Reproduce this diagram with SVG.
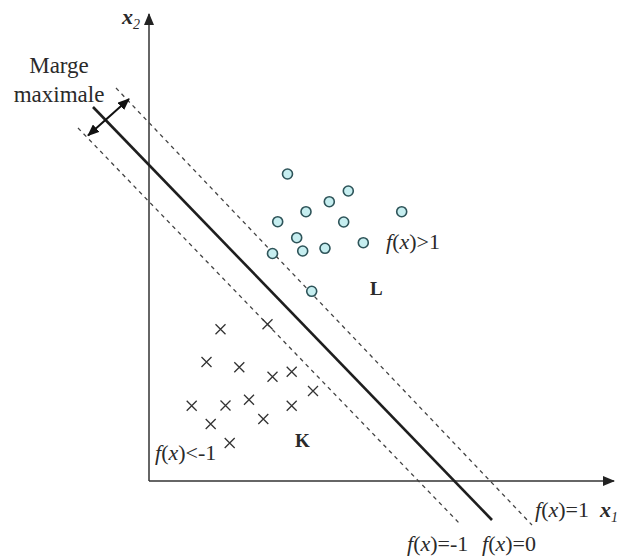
<svg xmlns="http://www.w3.org/2000/svg" width="617" height="557" viewBox="0 0 617 557">
<style>
  text { font-family: "Liberation Serif", "Times New Roman", serif; fill: #2a2a2a; }
  .lbl { font-size: 22px; }
  .it { font-style: italic; }
  .cls { font-size: 19px; font-weight: bold; }
  .axis { stroke: #333; stroke-width: 1.5; fill: none; }
  .solid { stroke: #1e1e1e; stroke-width: 2.6; fill: none; }
  .dash { stroke: #444; stroke-width: 1.3; stroke-dasharray: 4 4; fill: none; }
  .dot { fill: #c6eef0; stroke: #2e5459; stroke-width: 1.6; }
  .cross { stroke: #333; stroke-width: 1.3; fill: none; }
</style>
<defs>
  <marker id="axhead" viewBox="0 0 12 10" refX="11" refY="5" markerWidth="12" markerHeight="10" markerUnits="userSpaceOnUse" orient="auto">
    <path d="M0,0 L12,5 L0,10 Z" fill="#222"/>
  </marker>
  <marker id="mhead" viewBox="0 0 12 10" refX="11" refY="5" markerWidth="12" markerHeight="10" markerUnits="userSpaceOnUse" orient="auto-start-reverse">
    <path d="M0,0 L12,5 L0,10 Z" fill="#111"/>
  </marker>
  <g id="x"><path d="M-5,-5 L5,5 M-5,5 L5,-5"/></g>
</defs>
<rect width="617" height="557" fill="#ffffff"/>

<g id="axes">
  <line class="axis" x1="149" y1="481" x2="149" y2="14" marker-end="url(#axhead)"/>
  <line class="axis" x1="149" y1="481" x2="614" y2="481" marker-end="url(#axhead)"/>
  <text x="122" y="24" font-size="22" font-weight="bold" font-style="italic">x<tspan font-size="14" font-weight="normal" dy="5">2</tspan></text>
  <text x="600" y="517" font-size="22" font-weight="bold" font-style="italic">x<tspan font-size="14" font-weight="normal" dy="5">1</tspan></text>
</g>

<g id="connectors">
  <line id="hyperplane" class="solid" x1="93" y1="107" x2="492" y2="520"/>
  <line id="margin-plus" class="dash" x1="116" y1="88" x2="532" y2="525"/>
  <line id="margin-minus" class="dash" x1="78" y1="128" x2="459" y2="523"/>
  <line id="margin-arrow" stroke="#111" stroke-width="2" x1="88" y1="135.5" x2="129" y2="99" marker-start="url(#mhead)" marker-end="url(#mhead)"/>
</g>

<g id="class-L">
  <circle class="dot" cx="287.5" cy="174" r="5"/>
  <circle class="dot" cx="348.3" cy="191" r="5"/>
  <circle class="dot" cx="329.3" cy="201.7" r="5"/>
  <circle class="dot" cx="306" cy="211.7" r="5"/>
  <circle class="dot" cx="401.7" cy="211.7" r="5"/>
  <circle class="dot" cx="277.7" cy="221.7" r="5"/>
  <circle class="dot" cx="343.7" cy="222" r="5"/>
  <circle class="dot" cx="296.7" cy="237.7" r="5"/>
  <circle class="dot" cx="363.3" cy="242.7" r="5"/>
  <circle class="dot" cx="325" cy="248.3" r="5"/>
  <circle class="dot" cx="302.7" cy="251" r="5"/>
  <circle class="dot" cx="272.5" cy="253.5" r="5"/>
  <circle class="dot" cx="311.7" cy="291.3" r="5"/>
  <text class="cls" x="370" y="295">L</text>
</g>

<g id="class-K" class="cross">
  <use href="#x" x="220.5" y="329.3"/>
  <use href="#x" x="267.5" y="324.3"/>
  <use href="#x" x="206.5" y="362"/>
  <use href="#x" x="239.3" y="367.3"/>
  <use href="#x" x="272.5" y="376.7"/>
  <use href="#x" x="291.7" y="371.7"/>
  <use href="#x" x="313" y="391"/>
  <use href="#x" x="191.7" y="405.7"/>
  <use href="#x" x="225.5" y="405.5"/>
  <use href="#x" x="249" y="399.7"/>
  <use href="#x" x="291.7" y="405.7"/>
  <use href="#x" x="210.7" y="424"/>
  <use href="#x" x="263.3" y="419"/>
  <use href="#x" x="229.7" y="443"/>
</g>
<text class="cls" x="295" y="447">K</text>

<g id="labels">
  <text x="59" y="73" font-size="23" text-anchor="middle">Marge</text>
  <text x="59" y="102" font-size="23" text-anchor="middle">maximale</text>
  <text class="lbl" x="386" y="249"><tspan class="it">f</tspan>(<tspan class="it">x</tspan>)&gt;1</text>
  <text class="lbl" x="155" y="460"><tspan class="it">f</tspan>(<tspan class="it">x</tspan>)&lt;-1</text>
  <text class="lbl" x="535" y="517"><tspan class="it">f</tspan>(<tspan class="it">x</tspan>)=1</text>
  <text class="lbl" x="407" y="551"><tspan class="it">f</tspan>(<tspan class="it">x</tspan>)=-1</text>
  <text class="lbl" x="482" y="551"><tspan class="it">f</tspan>(<tspan class="it">x</tspan>)=0</text>
</g>
</svg>
